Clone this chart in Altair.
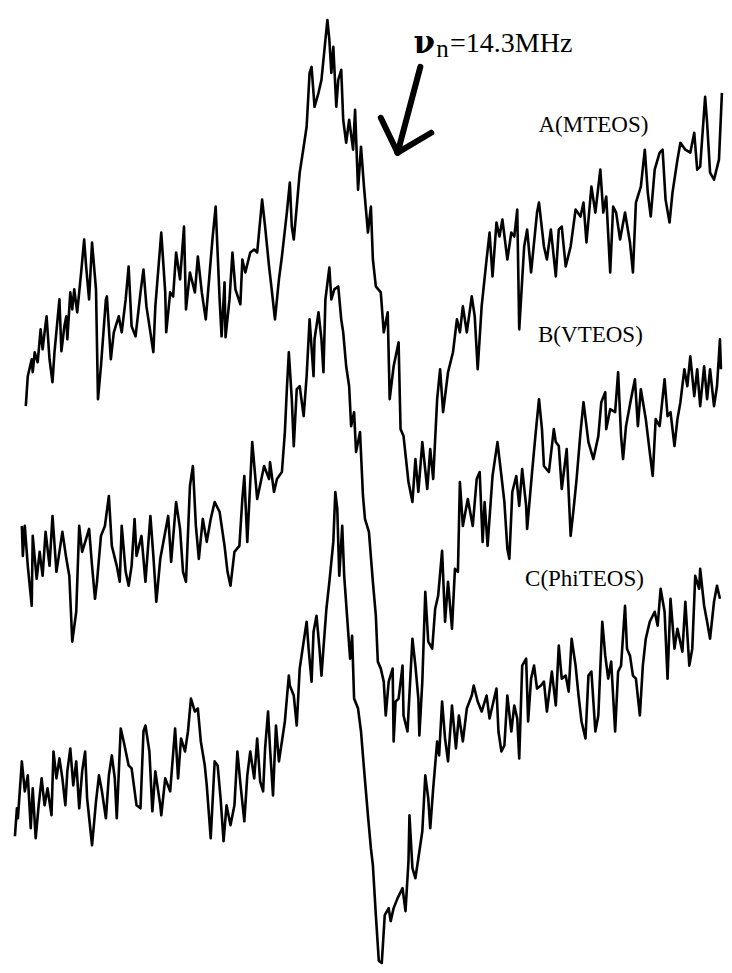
import altair as alt
import pandas as pd

# ---- trace A (MTEOS): channel position, signal (deflection, measured downward)
a_x = [26, 28, 32, 33, 35, 38, 41, 43, 45, 47, 50, 53, 55, 60, 62, 65, 67, 68, 71, 73,
       75, 78, 82, 85, 87, 90, 93, 97, 99, 102, 107, 108, 112, 115, 120, 123, 127, 130, 133, 137,
       142, 145, 148, 152, 155, 157, 163, 167, 168, 172, 175, 178, 182, 186, 188, 192, 197, 200, 204, 208,
       215, 218, 222, 224, 227, 228, 232, 235, 238, 243, 245, 248, 253, 257, 260, 265, 268, 272, 275, 278,
       282, 285, 290, 293, 295, 297, 300, 303, 307, 310, 313, 315, 318, 322, 325, 328, 331, 333, 335, 337,
       340, 342, 345, 347, 350, 353, 357, 359, 362, 365, 368, 372, 375, 377, 380, 385, 388, 392, 394, 398,
       403, 405, 408, 413, 417, 420, 423, 427, 432, 435, 438, 442, 445, 448, 453, 458, 462, 465, 468, 472,
       477, 480, 483, 487, 492, 495, 498, 502, 505, 508, 513, 517, 520, 523, 525, 530, 533, 537, 543, 545,
       550, 553, 557, 562, 565, 568, 572, 577, 582, 587, 590, 593, 598, 602, 607, 610, 613, 617, 620, 623,
       627, 632, 637, 640, 643, 648, 652, 655, 658, 662, 667, 670, 673, 677, 680, 685, 688, 693, 698, 702,
       705, 708, 713, 715, 718, 722, 727, 730]
a_y = [407, 377, 360, 373, 353, 363, 330, 350, 333, 317, 360, 383, 353, 300, 352, 327, 317, 340, 293, 310,
       290, 313, 273, 240, 267, 300, 243, 290, 400, 367, 300, 297, 360, 333, 317, 333, 300, 267, 327, 337,
       293, 270, 307, 333, 353, 307, 233, 293, 333, 293, 297, 253, 280, 227, 310, 273, 293, 257, 293, 320,
       237, 207, 300, 337, 283, 338, 300, 253, 290, 305, 260, 273, 253, 250, 253, 200, 227, 267, 293, 320,
       280, 257, 213, 183, 227, 240, 207, 173, 147, 127, 73, 67, 107, 93, 80, 50, 20, 40, 73, 47,
       107, 80, 70, 120, 143, 120, 150, 110, 190, 147, 187, 233, 207, 260, 287, 293, 333, 313, 400, 367,
       343, 430, 437, 483, 503, 460, 493, 443, 490, 450, 480, 400, 370, 413, 373, 353, 320, 333, 307, 333,
       297, 317, 370, 307, 260, 233, 277, 223, 237, 220, 260, 233, 237, 210, 330, 247, 230, 273, 213, 203,
       247, 260, 230, 277, 230, 227, 267, 247, 210, 217, 203, 243, 187, 213, 170, 213, 197, 273, 207, 213,
       240, 213, 243, 273, 203, 187, 150, 193, 217, 170, 153, 150, 200, 223, 193, 160, 143, 150, 153, 133,
       170, 167, 97, 123, 173, 180, 160, 93]

# ---- trace B (VTEOS)
b_x = [22, 23, 25, 28, 32, 33, 37, 40, 43, 46, 50, 53, 57, 60, 63, 67, 70, 73, 77, 80,
       83, 87, 90, 93, 96, 98, 102, 106, 110, 113, 118, 121, 123, 127, 130, 133, 136, 138, 143, 147,
       152, 155, 158, 162, 167, 170, 173, 178, 182, 185, 188, 192, 195, 198, 201, 205, 209, 213, 217, 222,
       227, 230, 233, 237, 242, 245, 247, 250, 255, 260, 267, 272, 273, 277, 280, 285, 288, 290, 292, 295,
       297, 300, 303, 307, 310, 313, 317, 318, 322, 325, 327, 329, 333, 335, 338, 342, 345, 347, 350, 353,
       355, 358, 360, 364, 367, 369, 373, 377, 380, 382, 385, 388, 390, 393, 397, 398, 400, 403, 407, 408,
       412, 415, 417, 420, 423, 424, 427, 430, 433, 437, 440, 443, 447, 450, 453, 457, 460, 463, 465, 468,
       473, 478, 482, 485, 488, 490, 493, 498, 503, 507, 510, 513, 515, 518, 522, 525, 528, 532, 533, 538,
       542, 545, 548, 550, 555, 560, 562, 565, 568, 573, 577, 580, 583, 587, 590, 595, 600, 605, 608, 612,
       613, 617, 622, 625, 628, 630, 633, 638, 642, 645, 648, 653, 657, 660, 663, 667, 672, 675, 678, 682,
       685, 688, 692, 695, 698, 702, 705, 708, 712, 715, 718, 722, 725, 728, 729]
b_y = [527, 557, 527, 567, 607, 537, 580, 553, 577, 533, 567, 517, 573, 553, 533, 560, 577, 643, 613, 527,
       553, 540, 530, 567, 600, 583, 537, 527, 497, 547, 567, 583, 527, 573, 587, 567, 520, 557, 537, 583,
       517, 557, 603, 560, 533, 517, 563, 503, 530, 573, 583, 487, 467, 527, 560, 520, 543, 520, 503, 513,
       547, 573, 587, 553, 547, 500, 477, 543, 443, 500, 467, 480, 463, 493, 480, 473, 433, 390, 353, 400,
       447, 390, 387, 417, 377, 320, 377, 340, 313, 340, 373, 300, 268, 300, 290, 287, 320, 333, 367, 387,
       427, 413, 453, 433, 497, 520, 533, 583, 617, 663, 670, 683, 717, 683, 670, 743, 703, 700, 667, 717,
       733, 677, 640, 667, 700, 737, 683, 593, 643, 650, 610, 597, 552, 623, 583, 630, 570, 573, 483, 527,
       500, 527, 480, 473, 543, 503, 547, 477, 443, 477, 503, 550, 560, 493, 477, 507, 470, 507, 530, 473,
       430, 400, 430, 467, 473, 430, 443, 447, 490, 450, 537, 510, 480, 433, 403, 443, 460, 437, 403, 393,
       430, 410, 413, 373, 437, 460, 427, 400, 380, 427, 390, 420, 453, 477, 420, 427, 380, 417, 413, 447,
       420, 403, 370, 387, 357, 397, 370, 407, 367, 400, 370, 407, 387, 340, 370]

# ---- trace C (PhiTEOS)
c_x = [15, 17, 18, 22, 25, 28, 31, 33, 36, 39, 42, 45, 48, 52, 54, 57, 60, 63, 66, 68,
       71, 74, 77, 80, 83, 86, 88, 93, 97, 100, 103, 107, 110, 113, 116, 118, 122, 125, 130, 133,
       138, 142, 145, 147, 151, 154, 157, 162, 163, 167, 172, 177, 180, 183, 187, 190, 193, 197, 200, 203,
       207, 209, 213, 217, 220, 223, 226, 229, 233, 237, 240, 243, 247, 250, 253, 257, 260, 263, 266, 268,
       271, 273, 276, 279, 282, 285, 288, 292, 293, 297, 300, 303, 307, 310, 312, 315, 317, 320, 323, 325,
       327, 330, 333, 337, 339, 341, 343, 346, 348, 352, 354, 356, 358, 362, 365, 368, 372, 375, 377, 380,
       383, 386, 389, 393, 395, 398, 402, 407, 410, 413, 414, 417, 420, 423, 427, 430, 433, 435, 438, 442,
       444, 447, 450, 453, 457, 461, 464, 468, 472, 477, 479, 483, 487, 492, 495, 498, 502, 504, 507, 510,
       513, 517, 520, 523, 525, 528, 532, 534, 537, 540, 543, 547, 550, 553, 558, 562, 565, 568, 572, 575,
       578, 582, 585, 588, 592, 595, 598, 602, 605, 609, 612, 615, 618, 622, 625, 628, 632, 634, 637, 640,
       643, 647, 650, 653, 657, 662, 665, 668, 672, 675, 678, 682, 685, 690, 693, 697, 700, 703, 707, 708,
       712, 715, 718, 722, 725, 728]
c_y = [838, 810, 820, 763, 793, 777, 830, 790, 840, 807, 780, 807, 790, 817, 753, 780, 760, 780, 807, 773,
       750, 787, 763, 810, 773, 753, 800, 847, 803, 777, 793, 820, 777, 757, 780, 820, 730, 743, 767, 770,
       807, 810, 733, 727, 753, 813, 773, 807, 817, 780, 793, 730, 780, 740, 753, 733, 700, 713, 710, 743,
       767, 787, 840, 763, 767, 800, 843, 807, 827, 807, 753, 785, 823, 777, 753, 780, 740, 783, 793, 750,
       713, 750, 797, 727, 763, 743, 723, 677, 687, 697, 727, 670, 643, 623, 650, 683, 633, 617, 650, 677,
       650, 610, 583, 543, 493, 510, 577, 527, 577, 633, 660, 637, 700, 710, 733, 770, 817, 850, 867, 917,
       963, 965, 917, 910, 923, 910, 900, 890, 913, 863, 817, 870, 880, 860, 833, 777, 800, 830, 790, 743,
       757, 703, 740, 763, 707, 750, 717, 743, 710, 697, 687, 703, 713, 697, 720, 707, 690, 733, 753, 747,
       697, 733, 707, 720, 760, 667, 660, 723, 680, 667, 690, 687, 683, 713, 673, 707, 647, 680, 677, 693,
       640, 667, 697, 723, 740, 677, 673, 733, 717, 623, 657, 680, 663, 733, 673, 667, 607, 650, 657, 677,
       680, 717, 667, 640, 623, 613, 627, 590, 613, 680, 600, 650, 630, 653, 603, 667, 650, 577, 590, 570,
       607, 623, 640, 603, 587, 600]

trace_names = ["A(MTEOS)", "B(VTEOS)", "C(PhiTEOS)"]
label_x = [600, 597, 591]
label_y = [132, 343, 587]

rows = []
for name, xs_, ys_ in zip(trace_names, [a_x, b_x, c_x], [a_y, b_y, c_y]):
    for i, (xv, yv) in enumerate(zip(xs_, ys_)):
        rows.append({"trace": name, "idx": i, "x": xv, "y": yv})
df = pd.DataFrame(rows)

xs = alt.Scale(domain=[8, 724], nice=False, zero=False)
ys = alt.Scale(domain=[8, 965], nice=False, zero=False, reverse=True)


def X(f):
    return alt.X(f, type="quantitative", scale=xs, axis=None)


def Y(f):
    return alt.Y(f, type="quantitative", scale=ys, axis=None)


lines = alt.Chart(df).mark_line(color="black", strokeWidth=2.6, strokeJoin="round").encode(
    x=X("x"), y=Y("y"), detail="trace:N", order="idx:Q"
)

labels_df = pd.DataFrame({"text": trace_names, "x": label_x, "y": label_y})
labels = alt.Chart(labels_df).mark_text(
    font="Liberation Serif", fontSize=23, color="black", align="center", baseline="alphabetic"
).encode(x=X("x"), y=Y("y"), text="text:N")

# annotation  ν_n = 14.3 MHz
nu_df = pd.DataFrame({"text": ["ν"], "x": [418], "y": [53]})
nu = alt.Chart(nu_df).mark_text(
    font="DejaVu Serif", fontSize=31, fontWeight="bold", color="black",
    align="left", baseline="alphabetic"
).encode(x=X("x"), y=Y("y"), text="text:N")

sub_df = pd.DataFrame({"text": ["n"], "x": [441], "y": [57]})
sub = alt.Chart(sub_df).mark_text(
    font="Liberation Serif", fontSize=25, color="black", align="left", baseline="alphabetic"
).encode(x=X("x"), y=Y("y"), text="text:N")

freq_df = pd.DataFrame({"text": ["=14.3MHz"], "x": [455], "y": [52]})
freq = alt.Chart(freq_df).mark_text(
    font="Liberation Serif", fontSize=28, color="black", align="left", baseline="alphabetic"
).encode(x=X("x"), y=Y("y"), text="text:N")

arrow_df = pd.DataFrame({
    "x": [425, 385, 436], "y": [67, 118, 133],
    "x2": [402, 402, 402], "y2": [153, 153, 153],
})
arrow = alt.Chart(arrow_df).mark_rule(color="black", strokeWidth=6, strokeCap="round").encode(
    x=X("x"), y=Y("y"), x2="x2:Q", y2="y2:Q"
)

chart = alt.layer(lines, labels, nu, sub, freq, arrow).properties(
    width=716, height=957,
    autosize=alt.AutoSizeParams(type="fit", contains="padding"),
    padding=0,
    background="white",
).configure_view(strokeWidth=0)

chart.save("out.html", embed_options={"renderer": "svg", "actions": False})
